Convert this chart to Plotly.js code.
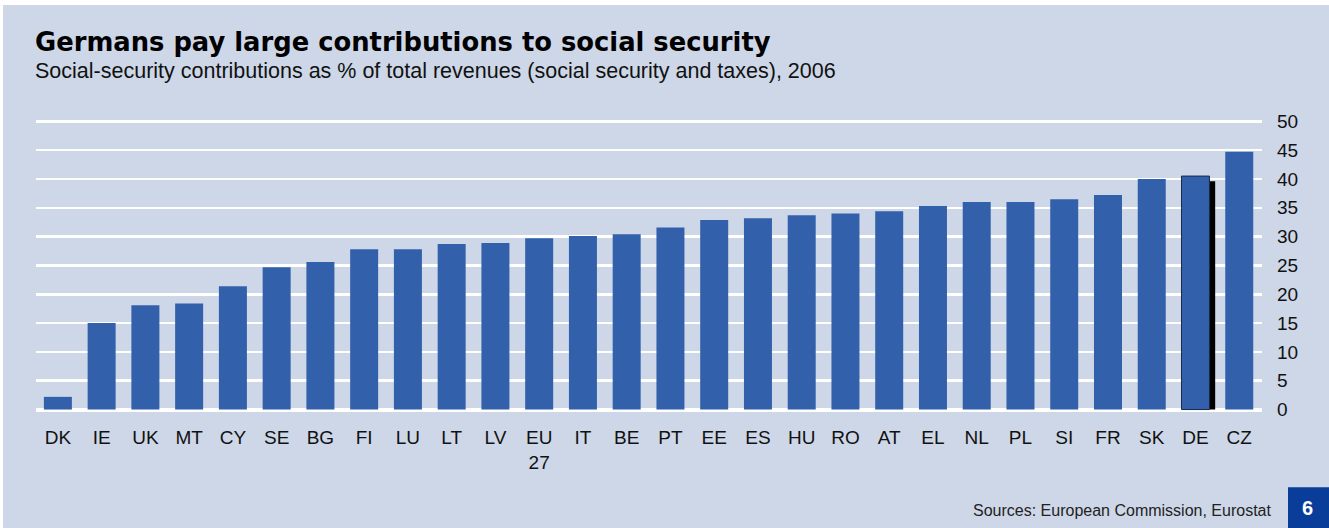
<!DOCTYPE html>
<html>
<head>
<meta charset="utf-8">
<script src="https://cdn.plot.ly/plotly-3.0.1.min.js"></script>
<style>
html,body{margin:0;padding:0;background:#ffffff;}
#chart{position:absolute;left:3px;top:5px;width:1326px;height:523px;}
</style>
</head>
<body>
<div id="chart"></div>
<script>
// Data
const countries = ["DK","IE","UK","MT","CY","SE","BG","FI","LU","LT","LV","EU 27","IT","BE","PT","EE","ES","HU","RO","AT","EL","NL","PL","SI","FR","SK","DE","CZ"];
const tickLabels = ["DK","IE","UK","MT","CY","SE","BG","FI","LU","LT","LV","EU<br>27","IT","BE","PT","EE","ES","HU","RO","AT","EL","NL","PL","SI","FR","SK","DE","CZ"];
const contributions = [2.2,15.0,18.1,18.4,21.4,24.7,25.6,27.8,27.8,28.7,28.9,29.7,30.1,30.4,31.6,32.9,33.2,33.7,34.0,34.4,35.3,36.0,36.0,36.5,37.2,40.0,40.5,44.7];
const highlighted = ["DE"];
const highlightShadow = [39.6];
const yTicks = [0,5,10,15,20,25,30,35,40,45,50];

const BAR = "#3260ab";
const BG = "#cdd7e8";

const isHi = countries.map(c => highlighted.includes(c));

const shadow = {
  type: "bar",
  x: highlighted,
  y: highlightShadow,
  width: 0.75,
  offset: -0.3,
  marker: {color: "#000000", line: {width: 0}},
  hoverinfo: "skip",
  showlegend: false
};

const main = {
  type: "bar",
  x: countries,
  y: contributions,
  width: 0.64,
  marker: {
    color: BAR,
    line: {
      color: isHi.map(h => h ? "#1c2a4a" : BAR),
      width: isHi.map(h => h ? 1 : 0)
    }
  },
  showlegend: false
};

const layout = {
  width: 1326,
  height: 523,
  paper_bgcolor: BG,
  plot_bgcolor: BG,
  barmode: "overlay",
  margin: {l: 33, r: 67, t: 114.2, b: 115.2},
  font: {family: "Liberation Sans, Arial, sans-serif", color: "#111111"},
  title: {
    text: "Germans pay large contributions to social security",
    font: {family: "DejaVu Sans, sans-serif", size: 25.8, weight: "bold", color: "#000000"},
    xref: "container", yref: "container",
    x: 32/1326, xanchor: "left",
    y: 1 - 37/523, yanchor: "middle"
  },
  xaxis: {
    type: "category",
    categoryorder: "array",
    categoryarray: countries,
    tickmode: "array",
    tickvals: countries,
    ticktext: tickLabels,
    range: [-0.5, 27.52],
    showgrid: false,
    zeroline: false,
    showline: false,
    ticks: "",
    ticklabelstandoff: 11,
    tickfont: {size: 19, color: "#111111"},
    fixedrange: true
  },
  yaxis: {
    side: "right",
    range: [-0.6, 50.4],
    tickmode: "array",
    tickvals: yTicks,
    ticktext: yTicks.map(String),
    showgrid: true,
    gridcolor: "#ffffff",
    gridwidth: 2.5,
    zeroline: true,
    zerolinecolor: "#ffffff",
    zerolinewidth: 4,
    showline: false,
    ticks: "",
    ticklabelstandoff: 14,
    tickfont: {size: 19, color: "#111111"},
    fixedrange: true
  },
  annotations: [
    {
      text: "Social-security contributions as % of total revenues (social security and taxes), 2006",
      xref: "paper", yref: "paper",
      x: -3/1226, xanchor: "left",
      y: 1 + (114.2 - 66)/293.6, yanchor: "middle",
      showarrow: false,
      font: {size: 21.5, color: "#111111"}
    },
    {
      text: "Sources: European Commission, Eurostat",
      xref: "paper", yref: "paper",
      x: (1273 - 36)/1226, xanchor: "right",
      y: -(510 - 412.8)/293.6, yanchor: "middle",
      showarrow: false,
      font: {size: 16, color: "#222222"}
    },
    {
      text: "<b>6</b>",
      xref: "paper", yref: "paper",
      x: (1307.5 - 36)/1226, xanchor: "center",
      y: -(507.5 - 412.8)/293.6, yanchor: "middle",
      showarrow: false,
      font: {size: 20, color: "#ffffff"}
    }
  ],
  shapes: [
    {
      type: "rect", xref: "paper", yref: "paper", layer: "below",
      x0: (1288 - 36)/1226, x1: (1335 - 36)/1226,
      y0: -(487 - 412.8)/293.6, y1: -(535 - 412.8)/293.6,
      fillcolor: "#0a3c9a", line: {width: 0}
    }
  ]
};

Plotly.newPlot("chart", [shadow, main], layout, {displayModeBar: false, staticPlot: true});
</script>
</body>
</html>
